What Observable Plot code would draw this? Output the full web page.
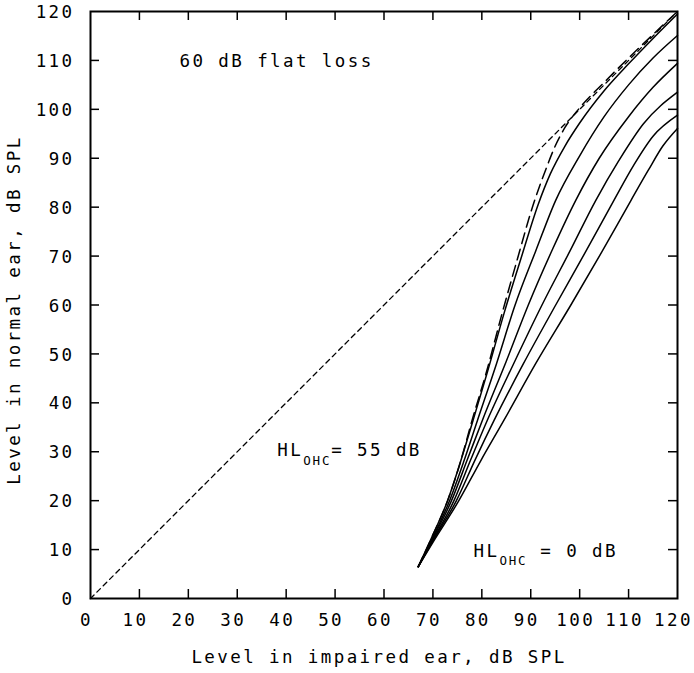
<!DOCTYPE html>
<html><head><meta charset="utf-8">
<script src="https://cdn.jsdelivr.net/npm/d3@7"></script>
<script src="https://cdn.jsdelivr.net/npm/@observablehq/plot@0.6"></script>
<style>
body{margin:0;background:#fff;}
#chart svg{display:block;}
#chart svg text{letter-spacing:2.4px;}
</style></head><body><div id="chart"></div>
<script>
// Axis ticks
const axisTicks = [0,10,20,30,40,50,60,70,80,90,100,110,120];
const innerTicks = [10,20,30,40,50,60,70,80,90,100,110];

// Reference diagonal (equal levels)
const diagIn = [0,120];
const diagOut = [0,120];

// Curves: level in impaired ear -> level in normal ear, per HL_OHC
const hl55_in  = [67,70,73,75.5,78,81,84.2,87.3,90.5,93,95,97,100,105,110,115,120];
const hl55_out = [6.5,13,20,27.5,36.4,46.5,58.5,69.5,80.5,87.5,92.5,96.3,100.3,105.5,110.5,115.3,120];
const hl50_in  = [67,70,73,75.5,78.2,81.2,84.6,88,91.5,94,97,100,105,110,115,120];
const hl50_out = [6.5,13,20,27.5,36.4,46.5,58.5,69.5,80.5,86.8,92.5,97.2,103.8,109.3,114.5,119.5];
const hl40_in  = [67,70,73.4,76.3,79.1,83,86.8,91,95.1,100,105,110,115,120];
const hl40_out = [6.5,12.5,20,28,36.4,48,60,71,81.4,90.5,98.5,105,110.5,115.1];
const hl30_in  = [67,70,73.8,77,80.1,85,89.5,94.5,99.2,104,110,115,120];
const hl30_out = [6.5,12.3,20,28.3,36.4,48.5,60,71.5,81.4,90,98.5,104.5,109.4];
const hl20_in  = [67,70,74.3,77.7,81.1,86.5,92.3,98,103.3,108,113,120];
const hl20_out = [6.5,12,20,28.3,36.4,48,60,71,81.4,89.5,97,103.5];
const hl10_in  = [67,70,74.8,78.6,82.5,88.5,95.1,101,107,111,115,120];
const hl10_out = [6.5,11.8,20,28.3,36.4,48,60,70.5,81.4,88.5,94.5,98.8];
const hl0_in   = [67,70,75.3,79.8,84.5,91,98.2,104.5,110.5,114,117,120];
const hl0_out  = [6.5,11.5,20,28.2,36.4,48,60,70.8,81.4,87.5,92.5,96.1];

// Annotations
const noteText = ["60 dB flat loss", "HL_OHC= 55 dB", "HL_OHC = 0 dB"];
const noteX = [18.2, 38.2, 78.3];
const noteY = [109.7, 30.2, 9.7];

const xLabel = "Level in impaired ear, dB SPL";
const yLabel = "Level in normal ear, dB SPL";

const toRows = (hl, xs, ys) => xs.map((x, i) => ({hl, x, y: ys[i]}));
const solidRows = [
  ...toRows(50, hl50_in, hl50_out),
  ...toRows(40, hl40_in, hl40_out),
  ...toRows(30, hl30_in, hl30_out),
  ...toRows(20, hl20_in, hl20_out),
  ...toRows(10, hl10_in, hl10_out),
  ...toRows(0, hl0_in, hl0_out)
];
const dashedRows = toRows(55, hl55_in, hl55_out);
const diagRows = toRows(-1, diagIn, diagOut);
const notes = noteText.map((t, i) => ({text: t, x: noteX[i], y: noteY[i]}));

const W = 694, H = 673, mL = 90, mR = 17, mT = 11, mB = 75;
const innerW = W - mL - mR, innerH = H - mT - mB;
const tickLen = 9;
const fs = 17.5;

const chart = Plot.plot({
  width: W, height: H,
  marginLeft: mL, marginRight: mR, marginTop: mT, marginBottom: mB,
  style: {fontFamily: "'DejaVu Sans Mono', monospace", fontSize: fs + "px", color: "#000", background: "#fff"},
  x: {domain: [0, 120]},
  y: {domain: [0, 120]},
  marks: [
    Plot.axisX(axisTicks, {tickSize: 0, tickPadding: 15, dx: -4, label: null, fontSize: fs}),
    Plot.axisY(axisTicks, {tickSize: 0, tickPadding: 16, dy: 1, label: null, fontSize: fs}),
    Plot.tickX(innerTicks, {x: d => d, insetTop: innerH - tickLen, stroke: "#000", strokeWidth: 1.5}),
    Plot.tickX(innerTicks, {x: d => d, insetBottom: innerH - tickLen, stroke: "#000", strokeWidth: 1.5}),
    Plot.tickY(innerTicks, {y: d => d, insetRight: innerW - tickLen, stroke: "#000", strokeWidth: 1.5}),
    Plot.tickY(innerTicks, {y: d => d, insetLeft: innerW - tickLen, stroke: "#000", strokeWidth: 1.5}),
    Plot.line(diagRows, {x: "x", y: "y", stroke: "#000", strokeWidth: 1.3, strokeDasharray: "5,4"}),
    Plot.line(solidRows, {x: "x", y: "y", z: "hl", stroke: "#000", strokeWidth: 1.5, curve: "monotone-x"}),
    Plot.line(dashedRows, {x: "x", y: "y", stroke: "#000", strokeWidth: 1.5, strokeDasharray: "11,6", curve: "monotone-x"}),
    Plot.frame({stroke: "#000", strokeWidth: 2}),
    Plot.text(notes, {x: "x", y: "y", text: "text", textAnchor: "start", lineAnchor: "middle", fontSize: fs, fill: "#000"}),
    Plot.text([xLabel], {frameAnchor: "bottom", textAnchor: "middle", dx: -5, dy: 59, lineAnchor: "middle", fontSize: fs, fill: "#000"}),
    Plot.text([yLabel], {frameAnchor: "left", textAnchor: "middle", dx: -76, dy: 5, rotate: -90, lineAnchor: "middle", fontSize: fs, fill: "#000"})
  ]
});

// Subscript "OHC" in the HL labels
d3.select(chart).selectAll("text").each(function() {
  const t = this.textContent;
  if (t.startsWith("HL_OHC")) {
    const rest = t.slice(6);
    const sel = d3.select(this);
    sel.text(null);
    sel.append("tspan").text("HL");
    sel.append("tspan").attr("dy", "8.7").attr("font-size", "12.5").attr("letter-spacing", "1.8px").text("OHC");
    sel.append("tspan").attr("dy", "-8.7").text(rest);
  }
});

document.getElementById("chart").appendChild(chart);
</script>
</body></html>
